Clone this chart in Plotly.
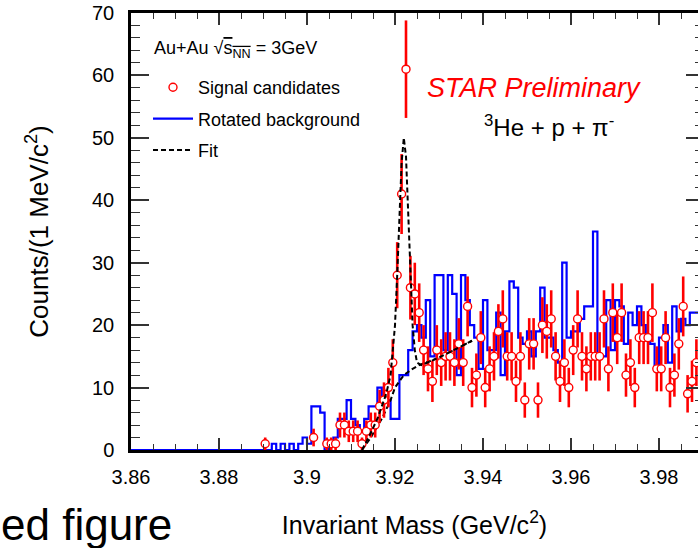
import numpy as np
import plotly.graph_objects as go

# ---------------- data (1 MeV bins, 3.860 - 3.990 GeV) ----------------
bin_start = 3.860
bin_width = 0.001
n_bins = 130

# Rotated background histogram (counts per 1 MeV bin), bin index 0..129
rotated_background = [
    0, 0, 0, 0, 0, 0, 0, 0, 0, 0,
    0, 0, 0, 0, 0, 0, 0, 0, 0, 0,
    0, 0, 0, 0, 0, 0, 0, 0, 0, 0,
    0, 0, 1, 0, 1, 0, 1, 0, 1, 2,
    1, 7, 7, 6, 0, 1, 2, 5, 5, 8,
    5, 4, 3, 5, 7, 7, 10, 8, 8, 5,
    5, 12, 12, 16, 19, 20, 18, 24, 15, 28,
    28, 16, 28, 25, 12, 28, 24, 20, 18, 13,
    24, 16, 16, 22, 12, 19, 27, 26, 18, 17,
    19, 15, 19, 26, 18, 18, 16, 14, 30, 18,
    19, 19, 21, 23, 23, 35, 15, 15, 24, 16,
    24, 23, 17, 22, 20, 23, 20, 18, 17, 13,
    18, 20, 14, 23, 19, 21, 20, 22, 22, 22,
]

# Signal candidates (counts per 1 MeV bin), 0 = empty bin (not drawn)
signal_candidates = [
    0, 0, 0, 0, 0, 0, 0, 0, 0, 0,
    0, 0, 0, 0, 0, 0, 0, 0, 0, 0,
    0, 0, 0, 0, 0, 0, 0, 0, 0, 0,
    1, 0, 0, 0, 0, 0, 0, 0, 0, 0,
    0, 2, 0, 0, 1, 1, 1, 4, 4, 3,
    3, 3, 1, 3, 4, 4, 7, 8, 10, 14,
    28, 41, 61, 26, 25, 22, 16, 13, 11, 16,
    14, 15, 15, 14, 17, 14, 23, 10, 12, 18,
    10, 13, 15, 19, 21, 15, 15, 11, 15, 8,
    17, 17, 8, 20, 19, 21, 15, 11, 14, 10,
    16, 21, 15, 13, 15, 15, 15, 21, 13, 22,
    18, 22, 12, 14, 10, 18, 18, 18, 22, 13,
    13, 18, 10, 12, 17, 23, 9, 11, 14, 0,
]

# Fit (signal + background)
fit_mass = [3.9125, 3.914, 3.916, 3.918, 3.919, 3.920, 3.9205, 3.921, 3.9215,
            3.922, 3.9225, 3.923, 3.9235, 3.924, 3.9245, 3.925, 3.926, 3.930, 3.9375]
fit_counts = [0, 2, 5, 9, 12, 20, 28, 38, 46,
              50, 47, 38, 28, 20, 16, 14, 13.6, 14.8, 17.5]

# Background component of the fit
fitbg_mass = [3.9125, 3.9145, 3.917, 3.919, 3.920, 3.922, 3.924, 3.9255, 3.930, 3.9375]
fitbg_counts = [0, 2, 5, 8, 10, 12, 13, 13.6, 14.8, 17.5]

x_ticks = [3.86, 3.88, 3.90, 3.92, 3.94, 3.96, 3.98]
x_tick_text = ["3.86", "3.88", "3.9", "3.92", "3.94", "3.96", "3.98"]
y_ticks = [0, 10, 20, 30, 40, 50, 60, 70]

# ---------------- derived ----------------
edges = np.round(bin_start + bin_width * np.arange(n_bins + 1), 4)
centers = np.round(edges[:-1] + bin_width / 2, 5)
bg = np.array(rotated_background, dtype=float)
sig = np.array(signal_candidates, dtype=float)
mask = sig > 0

FONT = "Liberation Sans, Arial, Helvetica, sans-serif"
RED = "#ff0000"
BLUE = "#0000ff"

fig = go.Figure()

fig.add_trace(go.Scatter(
    x=edges, y=np.append(bg, bg[-1]), mode="lines", line_shape="hv",
    line=dict(color=BLUE, width=2.2), name="Rotated background",
    legendgroup="b", legendrank=2,
))

fig.add_trace(go.Scatter(
    x=fitbg_mass, y=fitbg_counts, mode="lines",
    line=dict(color="black", width=2, dash="5px,3px"),
    showlegend=False, hoverinfo="skip",
))

fig.add_trace(go.Scatter(
    x=centers[mask], y=sig[mask], mode="markers", name="Signal candidates",
    marker=dict(symbol="circle", size=8, color="white", line=dict(color=RED, width=1.4)),
    error_y=dict(type="data", array=np.sqrt(sig[mask]), color=RED, thickness=2.6, width=0),
    legendgroup="a", legendrank=1,
))

fig.add_trace(go.Scatter(
    x=fit_mass, y=fit_counts, mode="lines",
    line=dict(color="black", width=2, dash="5px,3px"), name="Fit",
    legendgroup="c", legendrank=3,
))

# empty trace to carry the right-hand tick axis
fig.add_trace(go.Scatter(x=[], y=[], yaxis="y2", showlegend=False))

x_max = 3.86 + 567 / 4400.0

def px_x(p):
    return (p - 131) / 567.0

def px_y(p):
    return (450 - p) / 437.0

fig.update_layout(
    width=698, height=548,
    margin=dict(l=131, r=0, t=13, b=98, pad=0),
    paper_bgcolor="white", plot_bgcolor="white",
    font=dict(family=FONT, color="black", size=19),
    showlegend=True,
    legend=dict(
        x=px_x(148), y=px_y(69), xanchor="left", yanchor="top",
        bgcolor="rgba(0,0,0,0)", borderwidth=0,
        font=dict(size=18, family=FONT),
        tracegroupgap=5, itemwidth=40,
        traceorder="grouped",
    ),
    xaxis=dict(
        range=[3.86, x_max], showgrid=False, zeroline=False,
        showline=True, linecolor="black", linewidth=2.5, mirror="ticks",
        ticks="inside", ticklen=12, tickwidth=1.5, tickcolor="#333",
        tickvals=x_ticks, ticktext=x_tick_text,
        tickfont=dict(size=20, family=FONT), ticklabelstandoff=7,
        minor=dict(dtick=0.005, ticks="inside", ticklen=6, tickwidth=1.2, tickcolor="#333"),
        title=dict(text="Invariant Mass (GeV/c<sup>2</sup>)", font=dict(size=25, family=FONT), standoff=30),
    ),
    yaxis=dict(
        range=[0, 70], showgrid=False, zeroline=False,
        showline=True, linecolor="black", linewidth=2.5,
        ticks="inside", ticklen=18, tickwidth=1.5, tickcolor="#333",
        tickvals=y_ticks, tickfont=dict(size=20, family=FONT), ticklabelstandoff=10,
        minor=dict(dtick=2, ticks="inside", ticklen=9, tickwidth=1.2, tickcolor="#333"),
        title=dict(text="Counts/(1 MeV/c<sup>2</sup>)", font=dict(size=26, family=FONT), standoff=36),
    ),
    yaxis2=dict(
        range=[0, 70], overlaying="y", side="right", showgrid=False, zeroline=False,
        showline=False, ticks="inside", ticklen=12, tickwidth=1.5, tickcolor="#333",
        tickvals=y_ticks, showticklabels=False,
        minor=dict(dtick=2, ticks="inside", ticklen=3, tickwidth=1.2, tickcolor="#333"),
    ),
    annotations=[
        dict(text="Au+Au √<span style='text-decoration:overline'>s<sub>NN</sub></span> = 3GeV",
             xref="paper", yref="paper", x=px_x(152), y=px_y(50),
             xanchor="left", yanchor="middle", showarrow=False,
             font=dict(size=18, color="black", family=FONT)),
        dict(text="<i>STAR Preliminary</i>", xref="paper", yref="paper",
             x=px_x(425), y=px_y(88), xanchor="left", yanchor="middle",
             showarrow=False, font=dict(size=27, color=RED, family=FONT)),
        dict(text="<sup>3</sup>He + p + π<sup>-</sup>", xref="paper", yref="paper",
             x=px_x(482), y=px_y(126), xanchor="left", yanchor="middle",
             showarrow=False, font=dict(size=24, color="black", family=FONT)),
        dict(text="ed figure", xref="paper", yref="paper",
             x=px_x(174), y=px_y(524), xanchor="right", yanchor="middle",
             showarrow=False, font=dict(size=44, color="black", family=FONT)),
    ],
)

fig.write_html("out.html")
